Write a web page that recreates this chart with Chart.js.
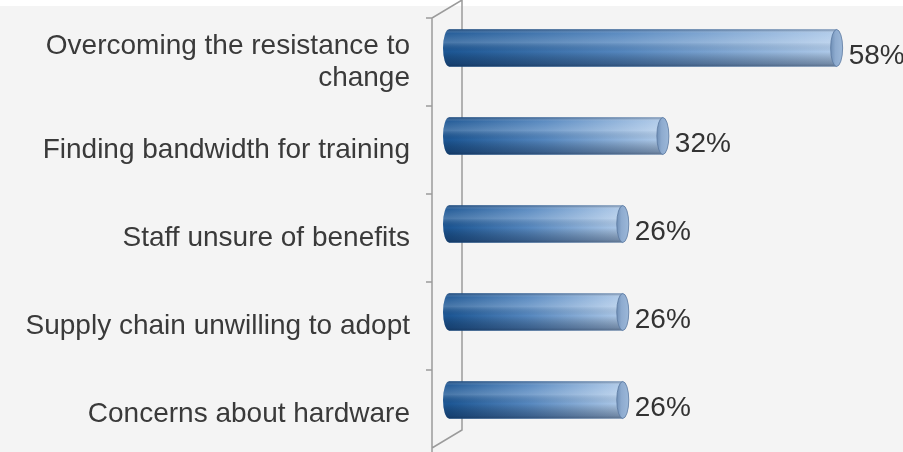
<!DOCTYPE html>
<html>
<head>
<meta charset="utf-8">
<script src="https://cdn.jsdelivr.net/npm/chart.js@4/dist/chart.umd.min.js"></script>
<style>
    html, body { margin: 0; padding: 0; background: #fff; }
    #wrap { width: 903px; height: 452px; }
</style>
</head>
<body>
<div id="wrap"><canvas id="chartBarriers" width="903" height="452"></canvas></div>
<script>
const categories = [
    ['Overcoming the resistance to', 'change'],
    'Finding bandwidth for training',
    'Staff unsure of benefits',
    'Supply chain unwilling to adopt',
    'Concerns about hardware'
];
const percentages = [58, 32, 26, 26, 26];
const axisMax = 60;

const FONT = "'Liberation Sans', Arial, sans-serif";

// horizontal dark-to-light fill, stretched over each bar's own length
function barFill(context) {
    const chart = context.chart;
    if (!chart.chartArea) return '#4f81bd';
    const xs = chart.scales.x;
    const x0 = xs.getPixelForValue(0);
    const x1 = xs.getPixelForValue(context.raw);
    const g = chart.ctx.createLinearGradient(x0, 0, x1, 0);
    g.addColorStop(0, '#1d5795');
    g.addColorStop(0.45, '#5587bf');
    g.addColorStop(1, '#b0cbea');
    return g;
}

// page background + the slanted "3D" axis walls
const wallPlugin = {
    id: 'walls',
    beforeDraw(chart) {
        const c = chart.ctx;
        c.save();
        c.fillStyle = '#f4f4f4';
        c.fillRect(0, 0, chart.width, chart.height);
        c.fillStyle = '#ffffff';
        c.fillRect(0, 0, chart.width, 6);
        c.restore();
    },
    beforeDatasetsDraw(chart) {
        const c = chart.ctx;
        const { left, top, bottom } = chart.chartArea;
        const dx = 30, dy = 18;
        const backX = left + 13, frontX = backX - dx;
        const backBottom = bottom - 14;
        const band = (bottom - top) / categories.length;

        c.save();
        c.strokeStyle = '#9b9b9b';
        c.lineWidth = 1.5;
        c.beginPath();
        c.moveTo(backX, 0);
        c.lineTo(backX, backBottom);
        c.lineTo(frontX, backBottom + dy);
        c.moveTo(backX, 0);
        c.lineTo(frontX, dy);
        c.lineTo(frontX, chart.height);
        for (let i = 0; i <= categories.length; i++) {
            const y = top + i * band + 14;
            c.moveTo(frontX - 6, y);
            c.lineTo(frontX, y);
        }
        c.stroke();
        c.restore();
    }
};

// rounded ends, tube shading and value labels
const cylinderPlugin = {
    id: 'cylinder',
    afterDatasetsDraw(chart) {
        const c = chart.ctx;
        const meta = chart.getDatasetMeta(0);
        meta.data.forEach((bar, i) => {
            const { x, y, base, height } = bar.getProps(['x', 'y', 'base', 'height'], true);
            const h = height / 2, rx = 6;
            c.save();

            // left end
            c.beginPath();
            c.ellipse(base, y, rx, h, 0, Math.PI / 2, Math.PI * 1.5);
            c.closePath();
            c.fillStyle = '#1d5795';
            c.fill();

            // shading across the tube
            c.beginPath();
            c.ellipse(base, y, rx, h, 0, Math.PI / 2, Math.PI * 1.5);
            c.lineTo(x, y - h);
            c.lineTo(x, y + h);
            c.closePath();
            const sh = c.createLinearGradient(0, y - h, 0, y + h);
            sh.addColorStop(0, 'rgba(20,40,70,0.45)');
            sh.addColorStop(0.1, 'rgba(255,255,255,0.05)');
            sh.addColorStop(0.35, 'rgba(255,255,255,0.2)');
            sh.addColorStop(0.6, 'rgba(0,0,0,0)');
            sh.addColorStop(0.92, 'rgba(10,25,50,0.35)');
            sh.addColorStop(1, 'rgba(10,25,50,0.5)');
            c.fillStyle = sh;
            c.fill();

            // end cap face
            c.beginPath();
            c.ellipse(x, y, rx, h, 0, 0, Math.PI * 2);
            const cap = c.createLinearGradient(x - rx, 0, x + rx, 0);
            cap.addColorStop(0, '#6f8fb6');
            cap.addColorStop(0.4, '#8eabcf');
            cap.addColorStop(1, '#9cb8d9');
            c.fillStyle = cap;
            c.fill();
            c.lineWidth = 1;
            c.strokeStyle = 'rgba(90,120,160,0.8)';
            c.stroke();

            // value label
            c.fillStyle = '#333333';
            c.font = '28px ' + FONT;
            c.textAlign = 'left';
            c.textBaseline = 'middle';
            c.fillText(percentages[i] + '%', x + 12, y + 8);
            c.restore();
        });
    }
};

const ctx = document.getElementById('chartBarriers').getContext('2d');
new Chart(ctx, {
    type: 'bar',
    data: {
        labels: categories,
        datasets: [{
            data: percentages,
            backgroundColor: barFill,
            borderWidth: 0,
            barThickness: 37
        }]
    },
    options: {
        indexAxis: 'y',
        responsive: false,
        animation: false,
        layout: { padding: { top: 4, bottom: 8, right: 53, left: 0 } },
        plugins: {
            legend: { display: false },
            tooltip: { enabled: false }
        },
        scales: {
            x: { display: false, min: 0, max: axisMax },
            y: {
                grid: { display: false, drawTicks: false },
                border: { display: false },
                ticks: {
                    autoSkip: false,
                    padding: 39,
                    labelOffset: 14,
                    color: '#3a3a3a',
                    font: { family: FONT, size: 28, lineHeight: 1.14 }
                },
                afterFit: (scale) => {
                    // fixed label column; no extra room above/below for the labels
                    scale.width = 449;
                    scale.paddingTop = 0;
                    scale.paddingBottom = 0;
                }
            }
        }
    },
    plugins: [wallPlugin, cylinderPlugin]
});
</script>
</body>
</html>
